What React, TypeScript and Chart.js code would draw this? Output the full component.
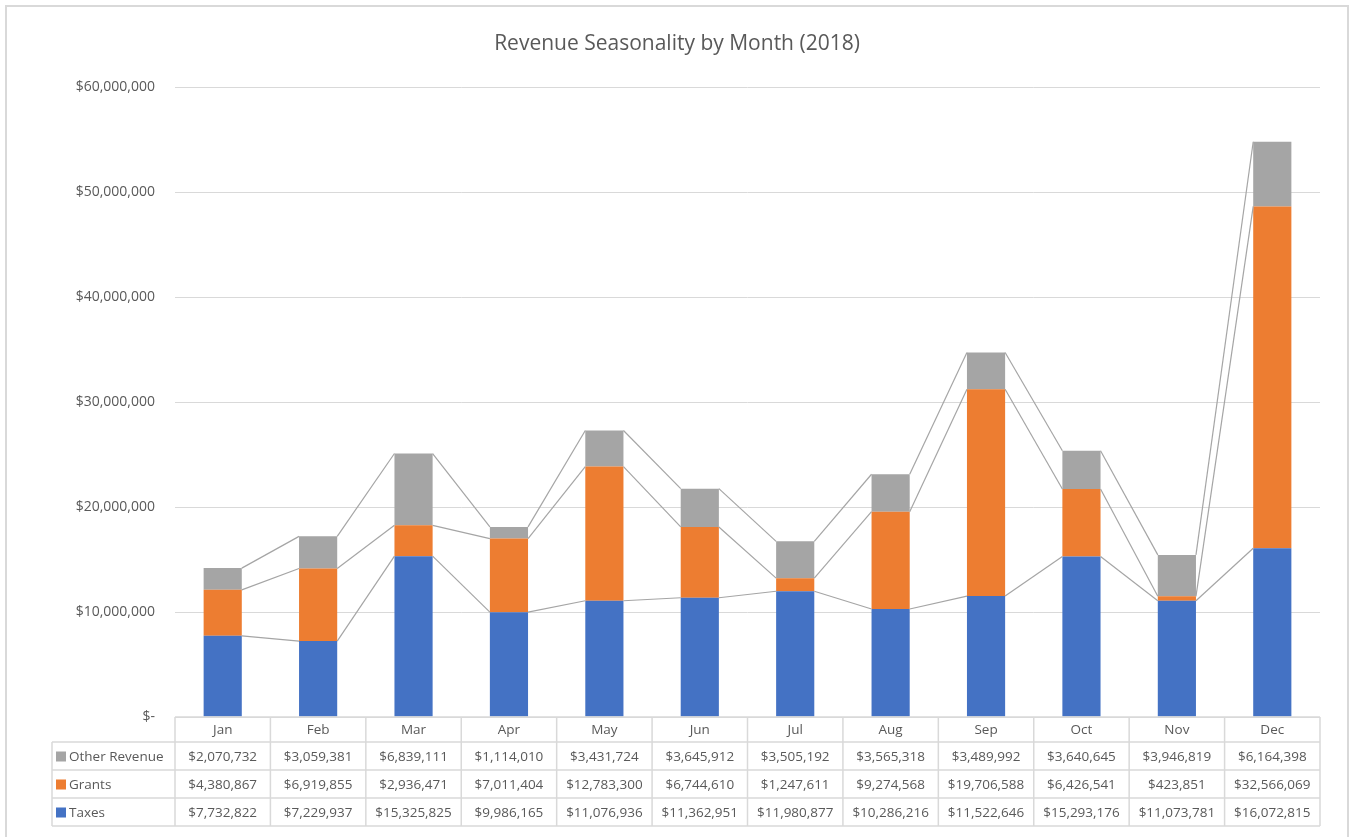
import React, { useEffect, useRef } from "react";
import { Chart, registerables } from "chart.js";

Chart.register(...registerables);

const months = ["Jan", "Feb", "Mar", "Apr", "May", "Jun", "Jul", "Aug", "Sep", "Oct", "Nov", "Dec"];
const taxes = [7732822, 7229937, 15325825, 9986165, 11076936, 11362951, 11980877, 10286216, 11522646, 15293176, 11073781, 16072815];
const grants = [4380867, 6919855, 2936471, 7011404, 12783300, 6744610, 1247611, 9274568, 19706588, 6426541, 423851, 32566069];
const otherRevenue = [2070732, 3059381, 6839111, 1114010, 3431724, 3645912, 3505192, 3565318, 3489992, 3640645, 3946819, 6164398];
const yTicksMax = 60000000;
const yTickStep = 10000000;

const FONT = "'Open Sans', sans-serif";
const TEXT = "#595959";
const GRID = "#d9d9d9";

const fmt = (v: number) => (v === 0 ? "$-" : "$" + v.toLocaleString("en-US"));

const seriesLines = {
  id: "seriesLines",
  afterDatasetsDraw(chart: any) {
    const ctx = chart.ctx;
    ctx.save();
    ctx.strokeStyle = "#a5a5a5";
    ctx.lineWidth = 1.2;
    chart.data.datasets.forEach((_: any, di: number) => {
      const meta = chart.getDatasetMeta(di);
      for (let i = 0; i < meta.data.length - 1; i++) {
        const a: any = meta.data[i];
        const b: any = meta.data[i + 1];
        ctx.beginPath();
        ctx.moveTo(a.x + a.width / 2, a.y);
        ctx.lineTo(b.x - b.width / 2, b.y);
        ctx.stroke();
      }
    });
    ctx.restore();
  },
};

const dataTable = {
  id: "dataTable",
  afterDraw(chart: any) {
    const ctx = chart.ctx;
    const area = chart.chartArea;
    const xs = chart.scales.x;
    const n = months.length;
    const colW = (area.right - area.left) / n;
    const top = area.bottom;
    const headH = 25;
    const rowH = 28;
    const legendLeft = 52;
    const rows = [...chart.data.datasets].reverse();
    const bottom = top + headH + rowH * rows.length;
    ctx.save();
    ctx.strokeStyle = GRID;
    ctx.lineWidth = 1.5;
    ctx.beginPath();
    ctx.moveTo(area.left, top);
    ctx.lineTo(area.right, top);
    for (let r = 0; r <= rows.length; r++) {
      const y = top + headH + r * rowH;
      ctx.moveTo(legendLeft, y);
      ctx.lineTo(area.right, y);
    }
    for (let c = 0; c <= n; c++) {
      const x = area.left + c * colW;
      ctx.moveTo(x, top);
      ctx.lineTo(x, bottom);
    }
    ctx.moveTo(legendLeft, top + headH);
    ctx.lineTo(legendLeft, bottom);
    ctx.stroke();

    ctx.font = "13.5px " + FONT;
    ctx.fillStyle = TEXT;
    ctx.textAlign = "center";
    ctx.textBaseline = "middle";
    months.forEach((m, i) => {
      ctx.fillText(m, xs.getPixelForValue(i), top + headH / 2 + 1);
    });
    rows.forEach((ds: any, r: number) => {
      const cy = top + headH + r * rowH + rowH / 2 + 1;
      ctx.textAlign = "center";
      ctx.fillStyle = TEXT;
      ds.data.forEach((v: number, i: number) => {
        ctx.fillText(fmt(v), xs.getPixelForValue(i), cy);
      });
      ctx.fillStyle = ds.backgroundColor;
      ctx.fillRect(legendLeft + 4, cy - 5.5, 10, 10);
      ctx.fillStyle = TEXT;
      ctx.textAlign = "left";
      ctx.fillText(ds.label, legendLeft + 17, cy);
    });
    ctx.restore();
  },
};

export default function App() {
  const ref = useRef<HTMLCanvasElement>(null);
  useEffect(() => {
    if (!ref.current) return;
    const chart = new Chart(ref.current, {
      type: "bar",
      data: {
        labels: months,
        datasets: [
          { label: "Taxes", data: taxes, backgroundColor: "#4472C4" },
          { label: "Grants", data: grants, backgroundColor: "#ED7D31" },
          { label: "Other Revenue", data: otherRevenue, backgroundColor: "#A5A5A5" },
        ],
      },
      options: {
        animation: false,
        responsive: true,
        maintainAspectRatio: false,
        layout: { padding: { left: 34, right: 31, top: 0, bottom: 120 } },
        datasets: { bar: { categoryPercentage: 1, barPercentage: 0.4 } } as any,
        plugins: {
          legend: { display: false },
          tooltip: { enabled: false },
          title: {
            display: true,
            text: "Revenue Seasonality by Month (2018)",
            color: TEXT,
            font: { family: FONT, size: 21, weight: "normal" as any },
            padding: { top: 31.5, bottom: 30.5 },
          },
        },
        scales: {
          x: { stacked: true, display: false },
          y: {
            stacked: true,
            min: 0,
            max: yTicksMax,
            border: { display: false },
            grid: { color: GRID, lineWidth: 1, drawTicks: false },
            ticks: {
              stepSize: yTickStep,
              padding: 20,
              color: TEXT,
              font: { family: FONT, size: 14 },
              callback: (v: any) => fmt(Number(v)),
            },
            afterFit: (s: any) => {
              s.width = 141;
            },
          },
        },
      },
      plugins: [seriesLines, dataTable],
    });
    return () => chart.destroy();
  }, []);
  return (
    <div style={{ position: "absolute", left: 0, top: 0, width: 1351, height: 837, overflow: "hidden", background: "#fff" }}>
      <div style={{ position: "absolute", left: 5, top: 5, width: 1344, height: 860, border: "2px solid " + GRID, boxSizing: "border-box" }} />
      <canvas ref={ref} style={{ position: "relative" }} />
    </div>
  );
}
